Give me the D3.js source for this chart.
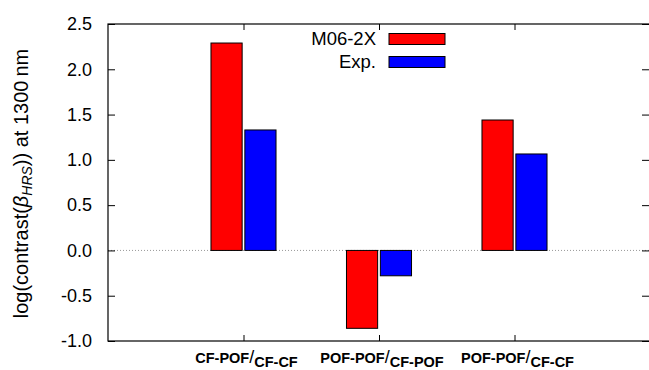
<!DOCTYPE html>
<html><head><meta charset="utf-8">
<script src="https://cdn.jsdelivr.net/npm/d3@7"></script>
<style>body{margin:0;background:#fff}svg{display:block}text{font-family:"Liberation Sans",Arial,sans-serif}</style>
</head><body><svg id="c" width="649" height="370"></svg>
<script>
const categoriesTop = ["CF-POF", "POF-POF", "POF-POF"];
const categoriesBottom = ["CF-CF", "CF-POF", "CF-CF"];
const seriesNames = ["M06-2X", "Exp."];
const seriesColors = ["#ff0000", "#0000ff"];
const m062x = [2.29, -0.86, 1.44];
const exp = [1.33, -0.28, 1.065];
const yTicks = [-1.0, -0.5, 0.0, 0.5, 1.0, 1.5, 2.0, 2.5];

const svg = d3.select("#c");
const L = 108, R = 650, T = 24, B = 341;
const x = d3.scaleLinear().domain([0, 4]).range([L, R]);
const y = d3.scaleLinear().domain([-1, 2.5]).range([B, T]);
const series = [m062x, exp];
const offsets = [-0.125, 0.125];
const bw = 0.23;

// zero line
svg.append("line").attr("x1", L).attr("x2", R).attr("y1", y(0)).attr("y2", y(0))
  .attr("stroke", "#999").attr("stroke-dasharray", "1,2").attr("stroke-width", 1);

// bars
series.forEach((vals, s) => {
  svg.append("g").selectAll("rect").data(vals).join("rect")
    .attr("x", (d, i) => x(i + 1 + offsets[s] - bw / 2))
    .attr("width", x(bw) - x(0))
    .attr("y", d => y(Math.max(0, d)))
    .attr("height", d => Math.abs(y(d) - y(0)))
    .attr("fill", seriesColors[s]).attr("stroke", "#000").attr("stroke-width", 1);
});

// axes
const fmt = d => d3.format(".1f")(d).replace("\u2212", "-");
const axL = d3.axisLeft(y).tickValues(yTicks).tickFormat(fmt).tickSizeInner(-7).tickSizeOuter(0).tickPadding(16);
const gL = svg.append("g").attr("transform", `translate(${L},0)`).call(axL);
gL.selectAll("text").attr("font-size", 18).attr("fill", "#000").style("font-family", "Liberation Sans");
const axR = d3.axisRight(y).tickValues(yTicks).tickFormat("").tickSizeInner(-7).tickSizeOuter(0);
svg.append("g").attr("transform", `translate(${R - 1},0)`).call(axR);
const axB = d3.axisBottom(x).tickValues([1, 2, 3]).tickFormat("").tickSizeInner(-6).tickSizeOuter(0);
svg.append("g").attr("transform", `translate(0,${B})`).call(axB);
const axT = d3.axisTop(x).tickValues([1, 2, 3]).tickFormat("").tickSizeInner(-6).tickSizeOuter(0);
svg.append("g").attr("transform", `translate(0,${T})`).call(axT);
svg.selectAll(".domain").remove();
svg.selectAll(".tick line").attr("stroke", "#000");
svg.append("rect").attr("x", L).attr("y", T).attr("width", R - L).attr("height", B - T)
  .attr("fill", "none").attr("stroke", "#000").attr("stroke-width", 1.2);

// x labels
categoriesTop.forEach((c, i) => {
  const t = svg.append("text").attr("x", x(i + 1) + 3).attr("y", 362.5).attr("text-anchor", "middle");
  t.append("tspan").attr("font-size", 14.5).attr("font-weight", "bold").text(c);
  t.append("tspan").attr("font-size", 18).text("/");
  t.append("tspan").attr("font-size", 14.5).attr("font-weight", "bold").attr("dy", 4.5).text(categoriesBottom[i]);
});

// y label
const yl = svg.append("text").attr("transform", `translate(28,${(T + B) / 2 + 1}) rotate(-90)`)
  .attr("text-anchor", "middle").attr("font-size", 20);
yl.append("tspan").text("log(contrast(");
yl.append("tspan").attr("font-style", "italic").text("β");
yl.append("tspan").attr("font-style", "italic").attr("font-size", 14).attr("dy", 4).text("HRS");
yl.append("tspan").attr("dy", -4).text(")) at 1300\u2009nm");

// legend
seriesNames.forEach((n, s) => {
  const cy = 39 + s * 23;
  svg.append("text").attr("x", 376).attr("y", cy).attr("dy", "0.35em").attr("text-anchor", "end")
    .attr("font-size", 18.5).text(n);
  svg.append("rect").attr("x", 389).attr("y", cy - 5.5).attr("width", 56).attr("height", 11)
    .attr("fill", seriesColors[s]).attr("stroke", "#000").attr("stroke-width", 1);
});
</script></body></html>
